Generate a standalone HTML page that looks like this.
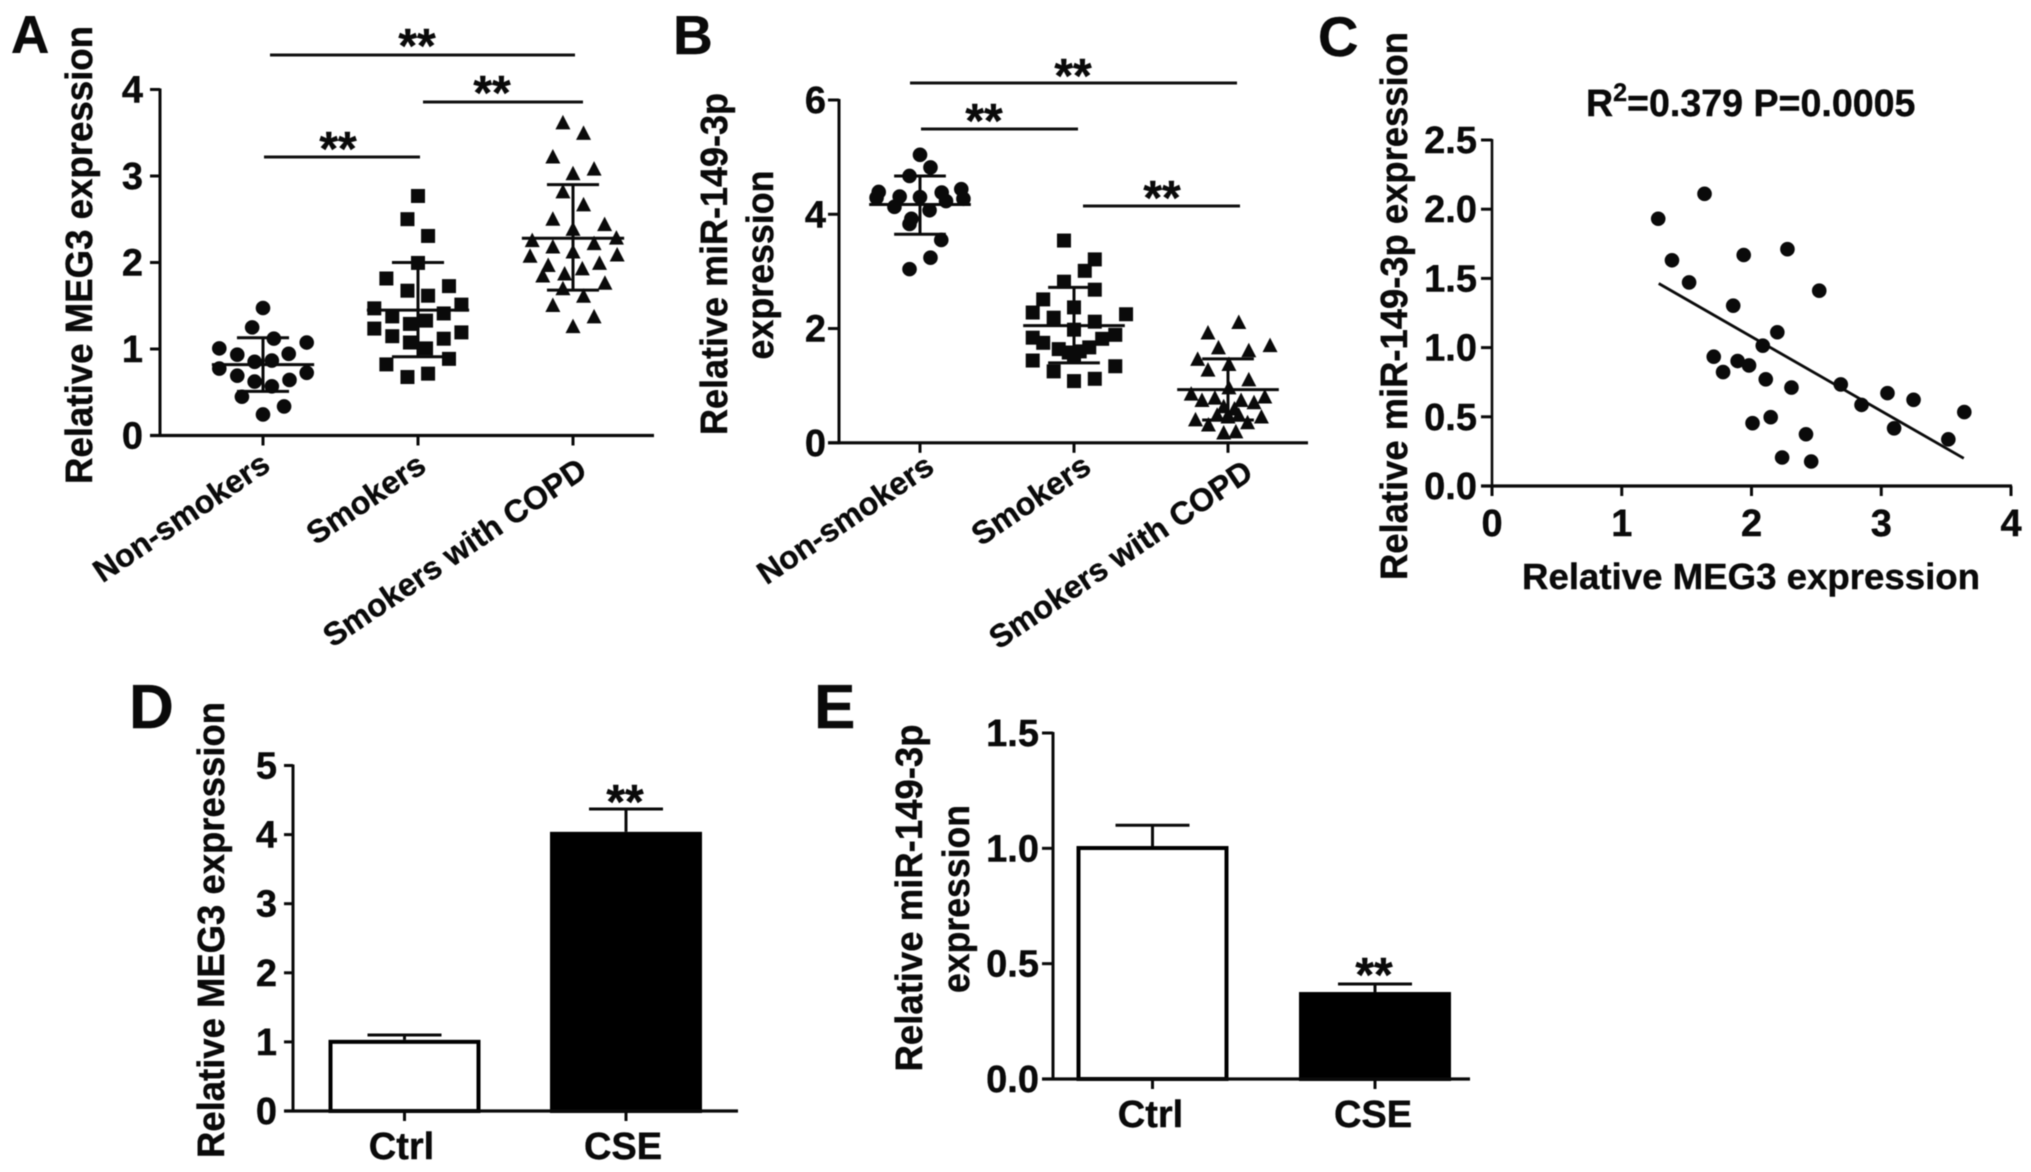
<!DOCTYPE html>
<html lang="en">
<head>
<meta charset="utf-8">
<title>MEG3 and miR-149-3p expression figure</title>
<style>
html,body{margin:0;padding:0;background:#fff;}
svg{display:block;filter:blur(0.6px);}
text{font-family:"Liberation Sans",Arial,sans-serif;font-weight:bold;fill:#0a0a0a;stroke:#0a0a0a;stroke-width:0.4px;}
</style>
</head>
<body>
<svg id="figure" xmlns="http://www.w3.org/2000/svg" width="2031" height="1172" viewBox="0 0 2031 1172">
<rect x="0" y="0" width="2031" height="1172" fill="#fff"/>

<g id="panel-a">
<text x="11" y="53" font-size="53">A</text>
<text transform="translate(92,255) rotate(-90) scale(1,1.05)" text-anchor="middle" font-size="36.6" textLength="458" lengthAdjust="spacingAndGlyphs">Relative MEG3 expression</text>
<text x="417" y="62" text-anchor="middle" font-size="48">**</text>
<text x="492" y="109" text-anchor="middle" font-size="48">**</text>
<text x="338" y="165" text-anchor="middle" font-size="48">**</text>
<line x1="270" y1="55" x2="575" y2="55" stroke="#111" stroke-width="3"/>
<line x1="423" y1="102" x2="583" y2="102" stroke="#111" stroke-width="3"/>
<line x1="264" y1="157" x2="420" y2="157" stroke="#111" stroke-width="3"/>
</g>

<g id="panel-b">
<text x="673" y="54" font-size="55">B</text>
<text transform="translate(727,264) rotate(-90) scale(1,1.05)" text-anchor="middle" font-size="36.6" textLength="342" lengthAdjust="spacingAndGlyphs">Relative miR-149-3p</text>
<text transform="translate(773,265) rotate(-90) scale(1,1.05)" text-anchor="middle" font-size="36.6" textLength="189" lengthAdjust="spacingAndGlyphs">expression</text>
<text x="1073" y="92" text-anchor="middle" font-size="48">**</text>
<text x="984" y="137" text-anchor="middle" font-size="48">**</text>
<text x="1162" y="214" text-anchor="middle" font-size="48">**</text>
<line x1="910" y1="83" x2="1237" y2="83" stroke="#111" stroke-width="3"/>
<line x1="921" y1="129" x2="1078" y2="129" stroke="#111" stroke-width="3"/>
<line x1="1083" y1="206" x2="1240" y2="206" stroke="#111" stroke-width="3"/>
</g>

<g id="panel-c">
<text x="1318" y="56" font-size="56">C</text>
<text transform="translate(1407,306) rotate(-90) scale(1,1.05)" text-anchor="middle" font-size="36.4" textLength="548" lengthAdjust="spacingAndGlyphs">Relative miR-149-3p expression</text>
<text transform="translate(1751,589) scale(1,1)" text-anchor="middle" font-size="36.5" textLength="458" lengthAdjust="spacingAndGlyphs">Relative MEG3 expression</text>
<text transform="translate(1586,116) scale(1,1)" font-size="37.6">R<tspan dy="-15" font-size="25">2</tspan><tspan dy="15">=0.379 P=0.0005</tspan></text>
</g>

<g id="panel-d">
<text x="129" y="728" font-size="62">D</text>
<text transform="translate(224,930) rotate(-90) scale(1,1.05)" text-anchor="middle" font-size="36.6" textLength="456" lengthAdjust="spacingAndGlyphs">Relative MEG3 expression</text>
<text x="625" y="818" text-anchor="middle" font-size="48">**</text>
</g>

<g id="panel-e">
<text x="814" y="728" font-size="62">E</text>
<text transform="translate(922,898) rotate(-90) scale(1,1.05)" text-anchor="middle" font-size="36.6" textLength="347" lengthAdjust="spacingAndGlyphs">Relative miR-149-3p</text>
<text transform="translate(969,899) rotate(-90) scale(1,1.05)" text-anchor="middle" font-size="36.6" textLength="188" lengthAdjust="spacingAndGlyphs">expression</text>
<text x="1374" y="991" text-anchor="middle" font-size="48">**</text>
</g>
</svg>

<script>
// ---------- Chart data ----------
const scatterCategories = ['Non-smokers', 'Smokers', 'Smokers with COPD'];
const barCategories = ['Ctrl', 'CSE'];

const tickLabelsA = ['0', '1', '2', '3', '4'];
const tickLabelsB = ['0', '2', '4', '6'];
const tickLabelsCX = ['0', '1', '2', '3', '4'];
const tickLabelsCY = ['0.0', '0.5', '1.0', '1.5', '2.0', '2.5'];
const tickLabelsD = ['0', '1', '2', '3', '4', '5'];
const tickLabelsE = ['0.0', '0.5', '1.0', '1.5'];

// Panel A: values and swarm offset (in category units)
const aNonSmokers = [1.474,1.25,1.12,1.075,1.007,0.934,0.944,0.852,0.866,0.774,0.725,0.691,0.642,0.623,0.569,0.448,0.336,0.243];
const aNonSmokersSwarm = [0,-0.07,0.07,0.282,-0.282,-0.166,0.166,-0.054,0.057,-0.282,0.282,-0.166,0.171,-0.054,0.057,-0.136,0.136,0];
const aSmokers = [2.769,2.501,2.307,1.995,1.815,1.727,1.674,1.616,1.513,1.47,1.377,1.411,1.328,1.29,1.236,1.192,1.148,1.119,1.075,1.007,0.822,0.886,0.715,0.676];
const aSmokersSwarm = [0,-0.068,0.065,0,-0.204,0.2,-0.068,0.065,0.28,-0.282,-0.166,0.166,0.052,-0.052,-0.282,0.28,-0.166,0.166,-0.052,0.052,-0.204,0.2,0.065,-0.068];
const aCopd = [3.62,3.499,3.226,3.085,3.032,2.822,2.672,2.506,2.389,2.443,2.258,2.287,2.224,2.185,2.127,2.078,2.092,1.971,1.995,1.932,1.849,1.873,1.766,1.703,1.616,1.509,1.377,1.265];
const aCopdSwarm = [-0.065,0.068,-0.13,0.136,0,-0.065,0.068,-0.13,0,0.204,-0.263,0.28,0.136,-0.13,0,-0.277,0.285,-0.16,0.171,0.06,-0.195,-0.054,0.206,-0.065,0.068,-0.13,0.136,0];
const aMeans = [0.82, 1.45, 2.28];
const aErrorHigh = [1.13, 2.0, 2.9];
const aErrorLow = [0.51, 0.91, 1.68];

// Panel B
const bNonSmokers = [5.04,4.82,4.67,4.39,4.44,4.31,4.30,4.38,4.29,4.27,4.23,4.13,4.07,3.92,3.83,3.55,3.24,3.04];
const bNonSmokersSwarm = [0,0.068,-0.068,-0.268,0.268,-0.132,0,0.141,-0.282,0.282,0.169,-0.166,0.062,-0.056,-0.068,0.138,0.068,-0.068];
const bSmokers = [3.54,3.21,3.01,2.82,2.68,2.51,2.37,2.28,2.25,2.19,2.12,1.98,1.84,1.89,1.82,1.75,1.67,1.64,1.60,1.58,1.53,1.44,1.34,1.25,1.12,1.08];
const bSmokersSwarm = [-0.065,0.135,0.07,-0.065,0.135,-0.2,0,-0.268,0.338,-0.132,0.135,0,-0.268,0.268,0.183,-0.2,0.099,-0.099,0.037,-0.034,0,-0.268,0.268,-0.132,0.135,0];
const bCopd = [2.115,1.93,1.71,1.67,1.62,1.47,1.38,1.28,1.11,0.97,0.86,0.81,0.75,0.79,0.75,0.71,0.64,0.60,0.49,0.49,0.41,0.46,0.32,0.36,0.18,0.20,0.46,0.49];
const bCopdSwarm = [0.07,-0.13,0.273,-0.062,0.135,-0.197,0.006,-0.13,0.135,0.006,-0.239,0.239,-0.169,-0.085,0.085,0.169,-0.028,0.042,0,-0.07,-0.211,0.217,-0.127,0.127,-0.028,0.051,0,0.07];
const bMeans = [4.17, 2.05, 0.93];
const bErrorHigh = [4.67, 2.72, 1.47];
const bErrorLow = [3.65, 1.40, 0.40];

// Panel C
const cMeg3 = [1.281,1.638,1.387,1.519,1.94,2.277,2.522,1.859,2.199,2.087,1.709,1.781,1.893,1.981,2.11,2.308,2.688,2.848,3.048,3.249,3.64,3.517,3.099,2.008,2.148,2.42,2.236,2.46];
const cMir149 = [1.931,2.111,1.631,1.471,1.669,1.711,1.411,1.303,1.111,1.014,0.934,0.823,0.903,0.871,0.771,0.711,0.734,0.586,0.671,0.623,0.534,0.337,0.417,0.454,0.497,0.374,0.206,0.177];
const cFitX = [1.285, 3.636];
const cFitY = [1.463, 0.2];

// Panels D and E
const dValues = [1.03, 4.04];
const dErrors = [1.10, 4.37];
const eValues = [1.01, 0.377];
const eErrors = [1.10, 0.412];

// ---------- Axis helpers ----------
const SVG_NS = 'http://www.w3.org/2000/svg';
function linearScale(d0, d1, r0, r1) {
  return function (v) { return r0 + (v - d0) * (r1 - r0) / (d1 - d0); };
}
function make(parentId, tag, attrs, name) {
  const el = document.createElementNS(SVG_NS, tag);
  Object.keys(attrs).forEach(function (k) { el.setAttribute(k, attrs[k]); });
  
  
  document.getElementById(parentId).appendChild(el);
  return el;
}
function line(p, x1, y1, x2, y2, w, name) {
  return make(p, 'line', {x1: x1, y1: y1, x2: x2, y2: y2, stroke: '#0a0a0a', 'stroke-width': w}, name);
}
function label(p, x, y, str, size, anchor, rot, sy, name) {
  const el = make(p, 'text', {
    transform: 'translate(' + x + ',' + y + ') rotate(' + rot + ') scale(1,' + sy + ')',
    'text-anchor': anchor, 'font-size': size
  }, name);
  el.textContent = str;
  return el;
}
function yAxis(p, scale, labels, axisX, tickLeft, labelRight, lineWidth, suffix) {
  const lastValue = parseFloat(labels[labels.length - 1]);
  line(p, axisX, scale(0) + 1.5, axisX, scale(lastValue) - 1, lineWidth, 'y-axis-' + suffix);
  labels.forEach(function (t) {
    const v = parseFloat(t);
    line(p, tickLeft, scale(v), axisX, scale(v), 3, 'y-tick-' + suffix + '-' + t);
    label(p, labelRight, scale(v) + 13, t, 38, 'end', 0, 1, 'y-tick-label-' + suffix + '-' + t);
  });
}
function marker(p, kind, cx, cy, name) {
  if (kind === 'circle') {
    make(p, 'circle', {cx: cx, cy: cy, r: 7.3, fill: '#0a0a0a'}, name);
  } else if (kind === 'square') {
    make(p, 'rect', {x: cx - 7, y: cy - 7, width: 14, height: 14, fill: '#0a0a0a'}, name);
  } else {
    make(p, 'polygon', {
      points: (cx - 7.5) + ',' + (cy + 7) + ' ' + (cx + 7.5) + ',' + (cy + 7) + ' ' + cx + ',' + (cy - 7.5),
      fill: '#0a0a0a'
    }, name);
  }
}
function swarmPanel(p, suffix, cfg, groups, means, high, low) {
  const y = cfg.y;
  const x = function (u) { return cfg.x0 + u * cfg.step; };
  line(p, cfg.axisLeft, y(0), cfg.axisRight, y(0), 3.2, 'x-axis-' + suffix);
  yAxis(p, y, cfg.ticks, cfg.axisX, cfg.axisLeft, cfg.labelRight, 3, suffix);
  const kinds = ['circle', 'square', 'triangle'];
  groups.forEach(function (g, i) {
    g.values.forEach(function (v, j) {
      marker(p, kinds[i], x(i + g.swarm[j]), y(v), 'point-' + suffix + '-' + kinds[i] + '-' + j);
    });
    line(p, x(i), y(0), x(i), y(0) + 10, 3, 'x-tick-' + suffix + '-' + i);
    line(p, x(i), y(high[i]), x(i), y(low[i]), 3, 'error-bar-' + suffix + '-' + i);
    line(p, x(i - 0.33), y(means[i]), x(i + 0.33), y(means[i]), 3, 'mean-line-' + suffix + '-' + i);
    line(p, x(i - 0.168), y(high[i]), x(i + 0.168), y(high[i]), 3, 'error-cap-high-' + suffix + '-' + i);
    line(p, x(i - 0.168), y(low[i]), x(i + 0.168), y(low[i]), 3, 'error-cap-low-' + suffix + '-' + i);
    label(p, x(i) + cfg.labelDx[i], cfg.labelY[i], scatterCategories[i], 32, 'end', -34, 1, 'x-tick-label-' + suffix + '-' + i);
  });
}
function barPanel(p, suffix, cfg, values, errors) {
  const y = cfg.y;
  const x = function (i) { return cfg.x0 + i * cfg.step; };
  values.forEach(function (v, i) {
    const left = x(i) - cfg.width / 2;
    const filled = i === 1;
    make(p, 'rect', {
      x: left + 2, y: y(v) + 2, width: cfg.width - 4, height: y(0) - y(v) - 2,
      fill: filled ? '#000' : '#fff', stroke: '#000', 'stroke-width': 4
    }, 'bar-' + suffix + '-' + barCategories[i].toLowerCase());
    line(p, x(i), y(v), x(i), y(errors[i]), 3, 'error-bar-' + suffix + '-' + i);
    line(p, x(i) - 37, y(errors[i]), x(i) + 37, y(errors[i]), 3, 'error-cap-' + suffix + '-' + i);
    line(p, x(i), y(0), x(i), y(0) + 10, 3, 'x-tick-' + suffix + '-' + i);
    label(p, x(i) + cfg.labelDx, cfg.labelY, barCategories[i], 38, 'middle', 0, 1, 'x-tick-label-' + suffix + '-' + i);
  });
  line(p, cfg.axisLeft, y(0), cfg.axisRight, y(0), 3.2, 'x-axis-' + suffix);
  yAxis(p, y, cfg.ticks, cfg.axisX, cfg.axisLeft, cfg.labelRight, 3, suffix);
}

// ---------- Panel A ----------
swarmPanel('panel-a', 'a', {
  y: linearScale(0, 4, 435.5, 89.5), x0: 263, step: 155,
  axisLeft: 150, axisRight: 654, axisX: 160, labelRight: 143, ticks: tickLabelsA,
  labelDx: [9, 10, 16], labelY: [469, 470, 475]
}, [
  {values: aNonSmokers, swarm: aNonSmokersSwarm},
  {values: aSmokers, swarm: aSmokersSwarm},
  {values: aCopd, swarm: aCopdSwarm}
], aMeans, aErrorHigh, aErrorLow);

// ---------- Panel B ----------
swarmPanel('panel-b', 'b', {
  y: linearScale(0, 6, 442.8, 100), x0: 920, step: 154,
  axisLeft: 828, axisRight: 1308, axisX: 839, labelRight: 826, ticks: tickLabelsB,
  labelDx: [16, 19, 27], labelY: [471, 471, 477]
}, [
  {values: bNonSmokers, swarm: bNonSmokersSwarm},
  {values: bSmokers, swarm: bSmokersSwarm},
  {values: bCopd, swarm: bCopdSwarm}
], bMeans, bErrorHigh, bErrorLow);

// ---------- Panel C ----------
const cX = linearScale(0, 4, 1492, 2011);
const cY = linearScale(0, 2.5, 486, 140);
line('panel-c', 1481, cY(0), cX(4) + 1, cY(0), 3.2, 'x-axis-c');
yAxis('panel-c', cY, tickLabelsCY, cX(0), 1481, 1477, 2.6, 'c');
tickLabelsCX.forEach(function (t) {
  const v = parseFloat(t);
  line('panel-c', cX(v), cY(0), cX(v), cY(0) + 10, 3, 'x-tick-c-' + t);
  label('panel-c', cX(v), 536, t, 38, 'middle', 0, 1, 'x-tick-label-c-' + t);
});
cMeg3.forEach(function (v, i) {
  marker('panel-c', 'circle', cX(v), cY(cMir149[i]), 'point-c-' + i);
});
line('panel-c', cX(cFitX[0]), cY(cFitY[0]), cX(cFitX[1]), cY(cFitY[1]), 2.8, 'regression-line');

// ---------- Panel D ----------
barPanel('panel-d', 'd', {
  y: linearScale(0, 5, 1111, 765.5), x0: 404.5, step: 221.5, width: 152,
  axisLeft: 284, axisRight: 738, axisX: 293, labelRight: 277, ticks: tickLabelsD,
  labelDx: -3, labelY: 1159
}, dValues, dErrors);

// ---------- Panel E ----------
barPanel('panel-e', 'e', {
  y: linearScale(0, 1.5, 1079, 733), x0: 1152.5, step: 222.5, width: 152,
  axisLeft: 1042, axisRight: 1470, axisX: 1053, labelRight: 1039, ticks: tickLabelsE,
  labelDx: -2, labelY: 1127
}, eValues, eErrors);
</script>
</body>
</html>
